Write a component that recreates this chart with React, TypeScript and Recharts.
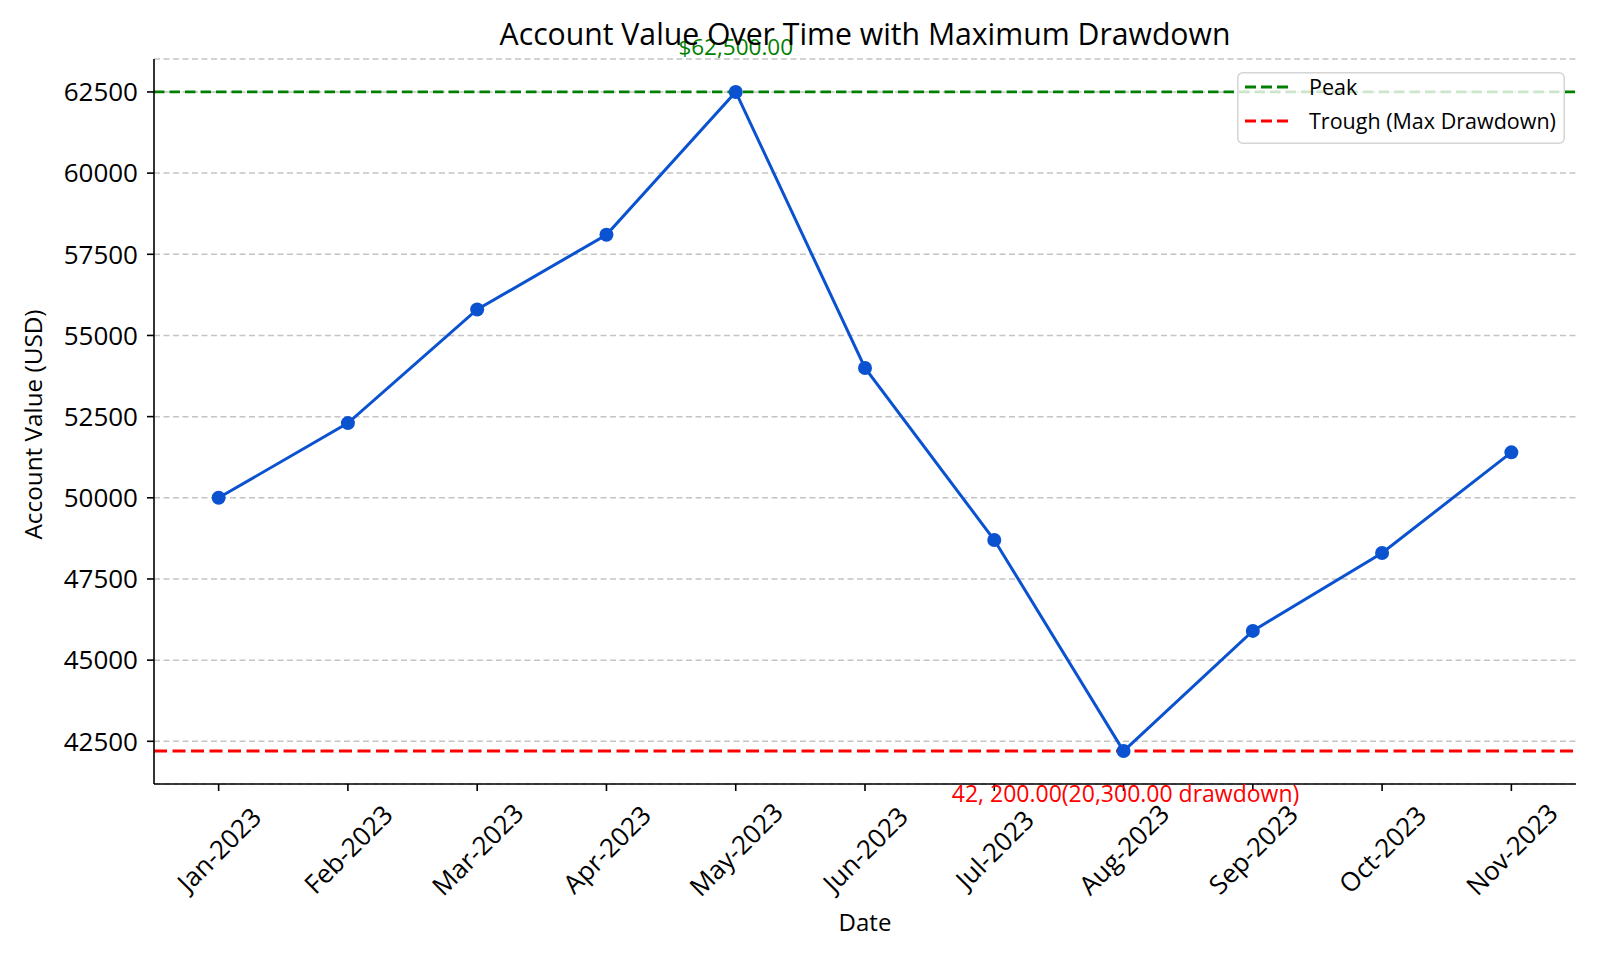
import React from 'react';
import { LineChart, Line, XAxis, YAxis, CartesianGrid, ReferenceLine, Legend, LabelList } from 'recharts';

const months = ['Jan-2023', 'Feb-2023', 'Mar-2023', 'Apr-2023', 'May-2023', 'Jun-2023', 'Jul-2023', 'Aug-2023', 'Sep-2023', 'Oct-2023', 'Nov-2023'];
const accountValues = [50000, 52300, 55800, 58100, 62500, 54000, 48700, 42200, 45900, 48300, 51400];
const yTicks = [42500, 45000, 47500, 50000, 52500, 55000, 57500, 60000, 62500];
const xTicks = months.map((_, i) => i);

const peakLabel = '$62,500.00';
const troughLabel = '42, 200.00(20,300.00 drawdown)';

const legendItems = [
  { label: 'Peak', color: '#008000' },
  { label: 'Trough (Max Drawdown)', color: '#ff0000' },
];

const FONT = '"Open Sans", sans-serif';
const BLUE = '#0a52d0';

const data = months.map((m, i) => ({ idx: i, month: m, value: accountValues[i] }));
const peakValue = Math.max(...accountValues);
const troughValue = Math.min(...accountValues);
const peakIdx = accountValues.indexOf(peakValue);
const troughIdx = accountValues.indexOf(troughValue);

const XTick = (props: any) => {
  const { x, y, payload } = props;
  return (
    <text
      x={x}
      y={y + 58}
      textAnchor="middle"
      dominantBaseline="central"
      transform={`rotate(-45, ${x}, ${y + 58})`}
      fontSize={26}
      fontFamily={FONT}
      fill="#000"
    >
      {months[payload.value]}
    </text>
  );
};

const renderAnnotation = (props: any) => {
  const { x, y, index } = props;
  if (index === peakIdx) {
    return (
      <text x={x} y={y - 37} textAnchor="middle" fontSize={22.5} fontFamily={FONT} fill="#008000">
        {peakLabel}
      </text>
    );
  }
  if (index === troughIdx) {
    return (
      <text x={x + 2} y={y + 51} textAnchor="middle" fontSize={23} fontFamily={FONT} fill="#ff0000">
        {troughLabel}
      </text>
    );
  }
  return null;
};

const LegendBox = () => (
  <svg width={328} height={72} style={{ display: 'block' }}>
    <rect x={0.75} y={0.75} width={326.5} height={70.5} rx={5} fill="rgba(255,255,255,0.8)" stroke="#d4d4d4" strokeWidth={1.5} />
    {legendItems.map((item, i) => (
      <g key={item.label}>
        <line x1={8} x2={53} y1={15 + i * 34} y2={15 + i * 34} stroke={item.color} strokeWidth={3} strokeDasharray="11 5" />
        <text x={72} y={23 + i * 34} fontSize={21.5} fontFamily={FONT} fill="#000">
          {item.label}
        </text>
      </g>
    ))}
  </svg>
);

export default function App() {
  return (
    <div style={{ position: 'absolute', left: 0, top: 0, width: 1600, height: 960, background: '#fff' }}>
      <div
        style={{
          position: 'absolute',
          left: 154,
          width: 1422,
          top: 14,
          textAlign: 'center',
          fontFamily: FONT,
          fontSize: 30.2,
          lineHeight: '40px',
          color: '#000',
          zIndex: 2,
        }}
      >
        Account Value Over Time with Maximum Drawdown
      </div>
      <LineChart width={1600} height={960} data={data} margin={{ top: 59, right: 24, bottom: 0, left: 0 }}>
        <CartesianGrid vertical={false} stroke="#c4c4c4" strokeWidth={1.5} strokeDasharray="6 3.5" />
        <XAxis
          dataKey="idx"
          type="number"
          domain={[-0.5, 10.5]}
          ticks={xTicks}
          interval={0}
          height={176}
          tickSize={7}
          tickMargin={0}
          stroke="#000"
          strokeWidth={1.6}
          tick={<XTick />}
          label={{
            content: (p: any) => (
              <text
                x={p.viewBox.x + p.viewBox.width / 2}
                y={p.viewBox.y + 147}
                textAnchor="middle"
                fontSize={24}
                fontFamily={FONT}
                fill="#000"
              >
                Date
              </text>
            ),
          }}
        />
        <YAxis
          type="number"
          domain={[41185, 63515]}
          ticks={yTicks}
          interval={0}
          width={154}
          tickSize={7}
          tickMargin={9}
          stroke="#000"
          strokeWidth={1.6}
          tick={{ fontSize: 26, fontFamily: FONT, fill: '#000' }}
          label={{
            content: (p: any) => (
              <text
                x={32}
                y={p.viewBox.y + p.viewBox.height / 2 + 3}
                textAnchor="middle"
                dominantBaseline="central"
                transform={`rotate(-90, 32, ${p.viewBox.y + p.viewBox.height / 2 + 3})`}
                fontSize={24.3}
                fontFamily={FONT}
                fill="#000"
              >
                Account Value (USD)
              </text>
            ),
          }}
        />
        <ReferenceLine y={peakValue} stroke="#008000" strokeWidth={2.8} strokeDasharray="10.5 5" />
        <ReferenceLine y={troughValue} stroke="#ff0000" strokeWidth={3} strokeDasharray="13 5.5" />
        <Line
          type="linear"
          dataKey="value"
          stroke={BLUE}
          strokeWidth={3}
          dot={{ r: 7, fill: BLUE, stroke: BLUE, strokeWidth: 0 }}
          activeDot={false}
          isAnimationActive={false}
        >
          <LabelList dataKey="value" content={renderAnnotation} />
        </Line>
        <Legend
          layout="horizontal"
          align="center"
          verticalAlign="middle"
          content={<LegendBox />}
          wrapperStyle={{ left: 1237, top: 72, width: 328, height: 72 }}
        />
      </LineChart>
    </div>
  );
}
